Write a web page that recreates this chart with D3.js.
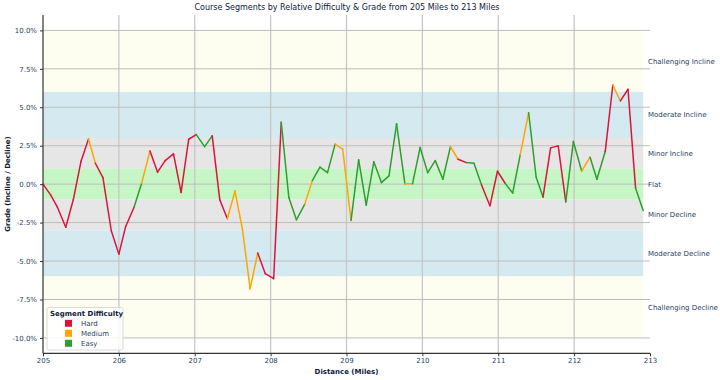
<!DOCTYPE html>
<html>
<head>
<meta charset="utf-8">
<script src="https://cdn.jsdelivr.net/npm/d3@7"></script>
<style>
  html, body { margin: 0; padding: 0; background: #ffffff; }
  svg { display: block; font-family: "DejaVu Sans", sans-serif; }
</style>
</head>
<body>
<svg id="chart" width="720" height="380"></svg>
<script>
// ---- data ----
const miles = [205.00,205.10,205.19,205.30,205.40,205.50,205.60,205.69,205.79,205.90,
  206.00,206.09,206.20,206.30,206.41,206.51,206.61,206.72,206.82,206.92,
  207.02,207.13,207.23,207.33,207.43,207.53,207.63,207.73,207.83,207.93,
  208.04,208.14,208.24,208.34,208.45,208.55,208.65,208.75,208.85,208.95,
  209.06,209.16,209.26,209.36,209.46,209.56,209.66,209.77,209.87,209.97,
  210.07,210.17,210.27,210.37,210.47,210.58,210.68,210.78,210.89,210.99,
  211.09,211.19,211.29,211.40,211.50,211.59,211.69,211.79,211.89,211.99,
  212.10,212.21,212.30,212.41,212.51,212.61,212.71,212.81,212.91];
const grades = [0.00,-0.70,-1.50,-2.80,-1.00,1.47,2.94,1.36,0.43,-3.03,
  -4.55,-2.75,-1.50,0.06,2.16,0.78,1.53,1.97,-0.54,2.92,
  3.22,2.44,3.14,-1.02,-2.25,-0.45,-2.97,-6.80,-4.48,-5.82,
  -6.15,4.03,-0.87,-2.32,-1.30,0.23,1.10,0.75,2.60,2.27,
  -2.36,1.58,-1.36,1.45,0.10,0.54,3.92,0.02,0.02,2.38,
  0.75,1.53,0.32,2.44,1.62,1.40,1.36,-0.05,-1.41,0.84,
  0.06,-0.58,1.92,4.65,0.45,-0.84,2.36,2.49,-1.15,2.77,
  0.84,1.75,0.32,2.12,6.45,5.41,6.17,-0.26,-1.71];
// difficulty of the segment starting at each point
const segmentDifficulty = ["Hard","Hard","Hard","Hard","Hard","Hard","Medium","Hard","Hard","Hard",
  "Hard","Hard","Easy","Medium","Hard","Hard","Hard","Hard","Hard","Hard",
  "Easy","Easy","Hard","Hard","Medium","Medium","Medium","Medium","Hard","Hard",
  "Hard","Easy","Easy","Easy","Medium","Easy","Easy","Easy","Medium","Medium",
  "Easy","Easy","Easy","Easy","Easy","Easy","Easy","Medium","Easy","Easy",
  "Easy","Easy","Easy","Medium","Hard","Easy","Easy","Hard","Hard","Hard",
  "Easy","Easy","Medium","Easy","Easy","Hard","Hard","Hard","Easy","Easy",
  "Medium","Easy","Easy","Hard","Medium","Hard","Hard","Easy"];
const difficultyNames = ["Hard","Medium","Easy"];
const difficultyColors = ["#dc143c","#ffa500","#2ca02c"];

const bandLabels = ["Challenging Incline","Moderate Incline","Minor Incline","Flat","Minor Decline","Moderate Decline","Challenging Decline"];
const bandLow  = [6, 3, 1, -1, -3, -6, -10];
const bandHigh = [10, 6, 3, 1, -1, -3, -6];
const bandLabelPos = [8, 4.5, 2, 0, -2, -4.5, -8];
const bandColors = ["#fefef0","#d5e9f0","#e6e6e6","#c6f5c6","#e6e6e6","#d5e9f0","#fefef0"];

const yTicks = [10, 7.5, 5, 2.5, 0, -2.5, -5, -7.5, -10];
const xTicks = [205, 206, 207, 208, 209, 210, 211, 212, 213];

const titleText = "Course Segments by Relative Difficulty & Grade from 205 Miles to 213 Miles";
const xLabel = "Distance (Miles)";
const yLabel = "Grade (Incline / Decline)";
const legendTitle = "Segment Difficulty";

// ---- layout ----
const L = 43, R = 650, T = 15, B = 353.3;
const svg = d3.select("#chart");
const x = d3.scaleLinear().domain([205, 213]).range([L, R]);
const y = d3.scaleLinear().domain([-11, 11]).range([B, T]);
const color = d3.scaleOrdinal().domain(difficultyNames).range(difficultyColors);
const textColor = "#2a3f5f";
const darkText = "#0e1a3a";

// bands
const xMin = d3.min(miles), xMax = d3.max(miles);
svg.append("g").selectAll("rect").data(bandLabels).join("rect")
  .attr("x", x(xMin)).attr("width", x(xMax) - x(xMin))
  .attr("y", (d, i) => y(bandHigh[i]))
  .attr("height", (d, i) => y(bandLow[i]) - y(bandHigh[i]))
  .attr("fill", (d, i) => bandColors[i]);

// grid
svg.append("g").selectAll("line").data(xTicks.slice(1, -1)).join("line")
  .attr("x1", d => x(d)).attr("x2", d => x(d)).attr("y1", T).attr("y2", B)
  .attr("stroke", "#c8c8c8").attr("stroke-width", 1.3);
svg.append("g").selectAll("line").data(yTicks).join("line")
  .attr("x1", L).attr("x2", R).attr("y1", d => y(d)).attr("y2", d => y(d))
  .attr("stroke", "#bdbdbd").attr("stroke-width", 1);

// line segments
const segs = d3.range(miles.length - 1);
svg.append("g").selectAll("line").data(segs).join("line")
  .attr("x1", i => x(miles[i])).attr("y1", i => y(grades[i]))
  .attr("x2", i => x(miles[i + 1])).attr("y2", i => y(grades[i + 1]))
  .attr("stroke", i => color(segmentDifficulty[i]))
  .attr("stroke-width", 1.5).attr("stroke-linecap", "round");

// axes
const yAxis = d3.axisLeft(y).tickValues(yTicks).tickSize(3).tickPadding(3)
  .tickFormat(d => d.toFixed(1) + "%");
const gy = svg.append("g").attr("transform", `translate(${L},0)`).call(yAxis);
gy.select(".domain").attr("stroke", "#333").attr("stroke-width", 1.2).attr("d", `M0,${T}V${B}`);
gy.selectAll(".tick line").attr("stroke", "#333");
gy.selectAll(".tick text").attr("fill", textColor).style("font-size", "7px").style("font-family", "DejaVu Sans");

const xAxis = d3.axisBottom(x).tickValues(xTicks).tickSize(3).tickPadding(2).tickFormat(d3.format("d"));
const gx = svg.append("g").attr("transform", `translate(0,${B})`).call(xAxis);
gx.select(".domain").attr("stroke", "#333").attr("stroke-width", 1.2).attr("d", `M${L},0H${R}`);
gx.selectAll(".tick line").attr("stroke", "#333");
gx.selectAll(".tick text").attr("fill", textColor).style("font-size", "7px").style("font-family", "DejaVu Sans");

// right band labels
svg.append("g").selectAll("text").data(bandLabels).join("text")
  .attr("x", R - 2).attr("y", (d, i) => y(bandLabelPos[i]))
  .attr("dy", "0.35em").attr("fill", textColor)
  .style("font-size", "7px").text(d => d);

// titles
svg.append("text").attr("x", 347).attr("y", 10).attr("text-anchor", "middle")
  .attr("fill", darkText).style("font-size", "8px").text(titleText);
svg.append("text").attr("x", (L + R) / 2).attr("y", 374).attr("text-anchor", "middle")
  .attr("fill", darkText).style("font-size", "7px").style("font-weight", "bold").text(xLabel);
svg.append("text").attr("transform", `translate(10,${(T + B) / 2}) rotate(-90)`)
  .attr("text-anchor", "middle").attr("fill", darkText)
  .style("font-size", "7px").style("font-weight", "bold").text(yLabel);

// legend
const lg = svg.append("g");
lg.append("rect").attr("x", 47).attr("y", 307.5).attr("width", 76).attr("height", 42.5)
  .attr("rx", 2).attr("fill", "#ffffff").attr("fill-opacity", 0.85)
  .attr("stroke", "#d0d0d0").attr("stroke-width", 0.8);
lg.append("text").attr("x", 50).attr("y", 316).attr("fill", darkText)
  .style("font-size", "7px").style("font-weight", "bold").text(legendTitle);
const items = lg.selectAll("g.item").data(difficultyNames).join("g").attr("class", "item")
  .attr("transform", (d, i) => `translate(0,${323.3 + i * 10})`);
items.append("rect").attr("x", 65).attr("y", -3.5).attr("width", 7).attr("height", 7)
  .attr("fill", d => color(d));
items.append("text").attr("x", 81).attr("y", 0).attr("dy", "0.35em").attr("fill", textColor)
  .style("font-size", "7px").text(d => d);
</script>
</body>
</html>
